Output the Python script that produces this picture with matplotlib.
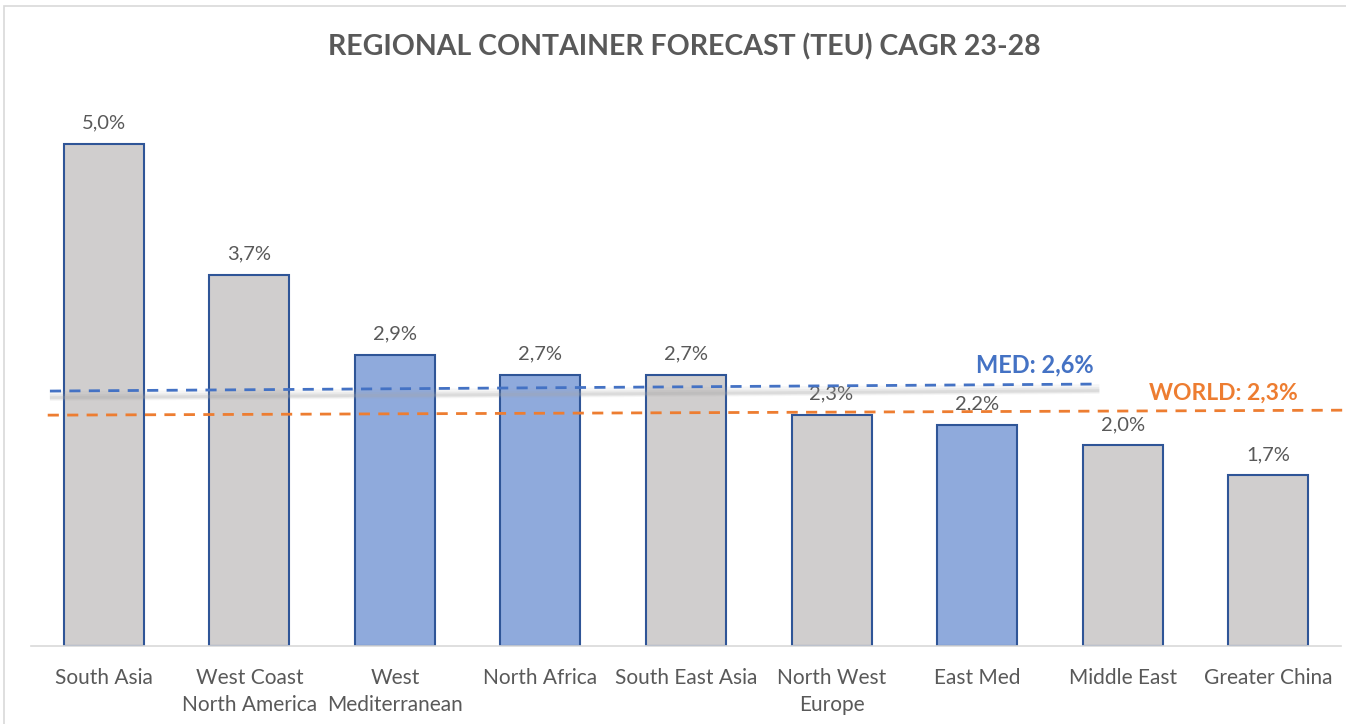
import numpy as np
import matplotlib.pyplot as plt
from matplotlib.patches import Rectangle

# data
regions = ["South Asia", "West Coast\nNorth America", "West\nMediterranean", "North Africa",
           "South East Asia", "North West\nEurope", "East Med", "Middle East", "Greater China"]
cagr = [5.0, 3.7, 2.9, 2.7, 2.7, 2.3, 2.2, 2.0, 1.7]
is_med = [False, False, True, True, False, False, True, False, False]
med_avg = 2.6
world_avg = 2.3
med_line_y = [2.54, 2.61]
world_line_y = [2.30, 2.35]

plt.rcParams['font.family'] = ['Lato', 'DejaVu Sans']
text_col = "#595959"
grey_fill = "#D0CECE"
blue_fill = "#8FAADC"
edge_col = "#2F5597"
med_col = "#4472C4"
world_col = "#ED7D31"

fig = plt.figure(figsize=(13.46, 7.24), dpi=100)
ax = fig.add_axes([31 / 1346, 78 / 724, 1310 / 1346, 542 / 724])

x = np.arange(len(regions))
colors = [blue_fill if m else grey_fill for m in is_med]
ax.bar(x, cagr, width=0.55, color=colors, edgecolor=edge_col, linewidth=1.5, zorder=2)

for xi, v in zip(x, cagr):
    ax.annotate(f"{v:.1f}%".replace(".", ","), (xi, v), xytext=(0, 15), textcoords="offset points",
                ha="center", va="center", fontsize=14.5, color=text_col)

# average lines (MED has a soft shadow underneath)
mx = [-0.37, 6.84]
for dy, lw, a in [(0.05, 7, 0.10), (0.06, 4, 0.15), (0.065, 2, 0.2)]:
    ax.plot(mx, [y - dy for y in med_line_y], color="#A6A6A6", lw=lw, alpha=a, zorder=3,
            solid_capstyle="butt")
ax.plot(mx, med_line_y, color=med_col, lw=2, ls=(0, (4, 3)), zorder=4)
ax.plot([-0.385, 8.6], world_line_y, color=world_col, lw=2, ls=(0, (4, 3)), zorder=4, clip_on=False)
ax.text(6.80, 2.80, f"MED: {med_avg:.1f}%".replace(".", ","), ha="right", va="center",
        fontsize=17, fontweight="bold", color=med_col)
ax.text(8.2, 2.52, f"WORLD: {world_avg:.1f}%".replace(".", ","), ha="right", va="center",
        fontsize=16.5, fontweight="bold", color=world_col)

ax.set_xlim(-0.5, 8.5)
ax.set_ylim(0, 5.4)
ax.set_xticks(x)
ax.set_xticklabels(regions, fontsize=15, color=text_col, linespacing=1.45)
ax.tick_params(axis="x", length=0, pad=16)
ax.set_yticks([])
for s in ["top", "right", "left"]:
    ax.spines[s].set_visible(False)
ax.spines["bottom"].set_color("#D9D9D9")
ax.spines["bottom"].set_linewidth(1.2)

fig.text(684 / 1346, 1 - 47 / 724, "REGIONAL CONTAINER FORECAST (TEU) CAGR 23-28", ha="center", va="center",
         fontsize=20.5, fontweight="bold", color=text_col)

fig.patches.append(Rectangle((4 / 1346, -0.1), 1.2, 1 - 6 / 724 + 0.1, transform=fig.transFigure,
                             fill=False, edgecolor="#D9D9D9", lw=1.2))

fig.savefig("out.png", dpi=100)
